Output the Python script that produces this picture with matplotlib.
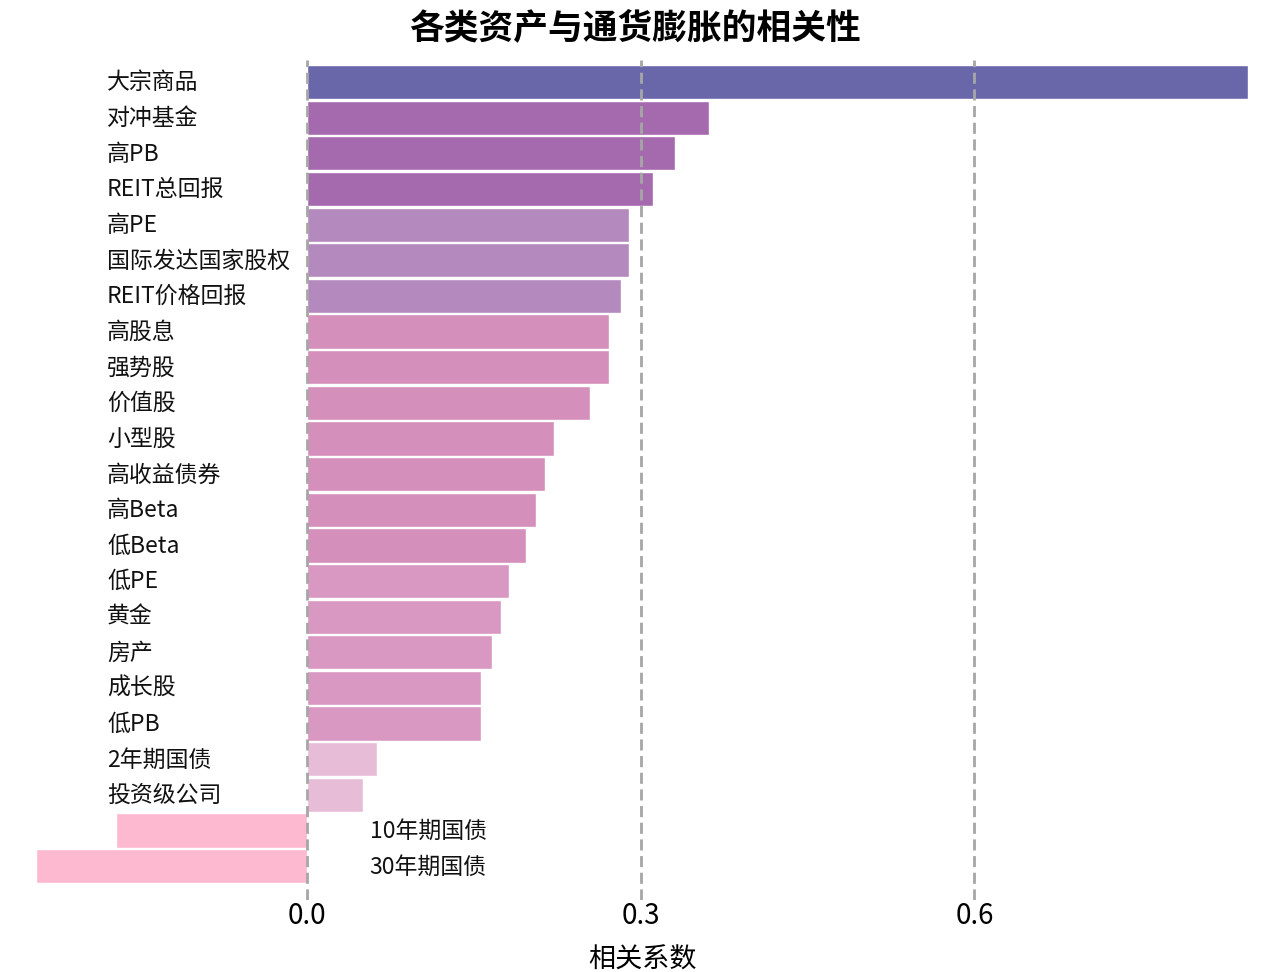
import matplotlib
matplotlib.use("Agg")
import matplotlib.pyplot as plt
import matplotlib.transforms as mtransforms

plt.rcParams['font.family'] = ['Noto Sans CJK SC', 'DejaVu Sans']

# data
assets = ['大宗商品', '对冲基金', '高PB', 'REIT总回报', '高PE', '国际发达国家股权',
          'REIT价格回报', '高股息', '强势股', '价值股', '小型股', '高收益债券',
          '高Beta', '低Beta', '低PE', '黄金', '房产', '成长股', '低PB',
          '2年期国债', '投资级公司', '10年期国债', '30年期国债']
corr = [0.846, 0.361, 0.331, 0.311, 0.289, 0.289,
        0.282, 0.271, 0.271, 0.254, 0.222, 0.214,
        0.206, 0.197, 0.181, 0.174, 0.166, 0.156, 0.156,
        0.063, 0.050, -0.172, -0.244]
bar_colors = ['#6967aa', '#a46aad', '#a46aad', '#a46aad', '#b489bd', '#b489bd',
              '#b489bd', '#d48fba', '#d48fba', '#d48fba', '#d48fba', '#d48fba',
              '#d48fba', '#d48fba', '#d898c1', '#d898c1', '#d898c1', '#d898c1', '#d898c1',
              '#e7bcd6', '#e7bcd6', '#fdb9cf', '#fdb9cf']
xticks = [0.0, 0.3, 0.6]

fig = plt.figure(figsize=(12.7, 9.72), dpi=100)
ax = fig.add_axes([36 / 1270, 1 - 900 / 972, 1212 / 1270, 840 / 972])

ypos = list(range(len(assets)))
ax.barh(ypos, corr, height=0.96, color=bar_colors, edgecolor='white', linewidth=1, zorder=2)

for x in xticks:
    ax.axvline(x, color='#a6a6a6', linestyle=(0, (4, 2)), linewidth=2, zorder=3)

ax.set_xlim(min(corr), max(corr))
ax.set_ylim(len(assets) - 1 + 0.95, -0.62)

# category labels: left side for positive values, right of zero for negative ones
lab_trans = mtransforms.blended_transform_factory(ax.transAxes, ax.transData)
for y, name, v in zip(ypos, assets, corr):
    if v >= 0:
        ax.text(71 / 1212, y + 0.02, name, transform=lab_trans, ha='left', va='center',
                fontsize=16.5, color='#111111')
    else:
        ax.text(0.056, y + 0.02, name, ha='left', va='center', fontsize=16.5, color='#111111')

ax.set_yticks([])
ax.set_xticks(xticks)
ax.set_xticklabels([f'{t:.1f}' for t in xticks])
ax.tick_params(axis='x', length=0, pad=1, labelsize=20)
for s in ax.spines.values():
    s.set_visible(False)

ax.set_xlabel('相关系数', fontsize=19.5, labelpad=11)
fig.suptitle('各类资产与通货膨胀的相关性', fontsize=25, fontweight='bold', y=0.99)

fig.savefig('out.png', dpi=100)
